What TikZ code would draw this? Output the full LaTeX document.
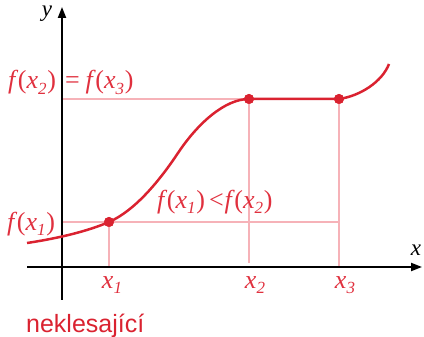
\documentclass[tikz,border=0pt]{standalone}
\usepackage{fontspec}
\setmainfont{Liberation Serif}
\setsansfont{Liberation Sans}
\usetikzlibrary{arrows.meta}
\definecolor{cred}{HTML}{DA2230}
\definecolor{tred}{HTML}{E0303E}
\definecolor{guide}{HTML}{F6B2B8}
\newcommand\sbs[1]{\raisebox{-0.22em}{\fontsize{17}{17}\selectfont #1}}
\newcommand\up[1]{{\upshape #1}}
\newcommand\fx[1]{f\kern2.5pt\up{(}x\sbs{#1}\kern0.8pt\up{)}}
\begin{document}
\begin{tikzpicture}[x=1pt,y=-1pt,
  axis/.style={line width=2pt,-{Triangle[length=11pt,width=8pt]}},
  guideline/.style={guide,line width=1.2pt},
  curve/.style={cred,line width=2.5pt},
  dot/.style={circle,fill=cred,inner sep=0pt,minimum size=10pt},
  lab/.style={text=tred,font=\fontsize{26}{30}\selectfont\itshape,inner sep=0pt},
  axlab/.style={text=black,font=\fontsize{23}{26}\selectfont\itshape,inner sep=0pt},
]
\useasboundingbox (0,0) rectangle (424,337);
% axis end points
\coordinate (xs) at (27,267);
\coordinate (xe) at (422,267);
\coordinate (ys) at (62,300);
\coordinate (ye) at (62,7);
% guide line ends
\coordinate (g1y) at (62,222);
\coordinate (g2y) at (62,99);
\coordinate (g1x) at (109,267);
\coordinate (g2x) at (249,263);
\coordinate (g3x) at (339,267);
\coordinate (g3y) at (339,222);
\coordinate (cs) at (27,243);
\coordinate (ci) at (178,153);
\coordinate (ce) at (389,64);
% dots
\node[dot] (p1) at (109,222) {};
\node[dot] (p2) at (249,99) {};
\node[dot] (p3) at (339,99) {};
% guides
\draw[guideline] (g2y) -- (p2.center);
\draw[guideline] (g1y) -- (g3y);
\draw[guideline] (p1.center) -- (g1x);
\draw[guideline] (p2.center) -- (g2x);
\draw[guideline] (p3.center) -- (g3x);
% axes
\draw[axis] (xs) -- (xe);
\draw[axis] (ys) -- (ye);
% curve
\draw[curve] (cs) .. controls (60,238) and (88,231) .. (p1.center)
  .. controls (134,211) and (158,183) .. (ci)
  .. controls (198,123) and (225,99) .. (p2.center)
  -- (p3.center)
  .. controls (360,96) and (382,82) .. (ce);
\node[dot] at (p1) {};
\node[dot] at (p2) {};
\node[dot] at (p3) {};
% labels
\node[axlab,anchor=base] (ylab) at (47,17) {y};
\node[axlab,anchor=base] (xlab) at (416,255) {x};
\node[lab,anchor=base west] (f23) at (8,89) {\fx{2}\kern9pt\up{=}\kern6pt\fx{3}};
\node[lab,anchor=base west] (f1) at (7,230) {\fx{1}};
\node[lab,anchor=base west] (f12) at (157,208) {\fx{1}\kern4pt\up{<}\kern1pt\fx{2}};
\node[lab,anchor=base] (x1) at (112,288) {x\sbs{1}};
\node[lab,anchor=base] (x2) at (255,288) {x\sbs{2}};
\node[lab,anchor=base] (x3) at (345,288) {x\sbs{3}};
\node[text=cred,font=\sffamily\fontsize{25}{30}\selectfont,inner sep=0pt,anchor=base west] (nk) at (26,332) {neklesající};
\end{tikzpicture}
\end{document}
